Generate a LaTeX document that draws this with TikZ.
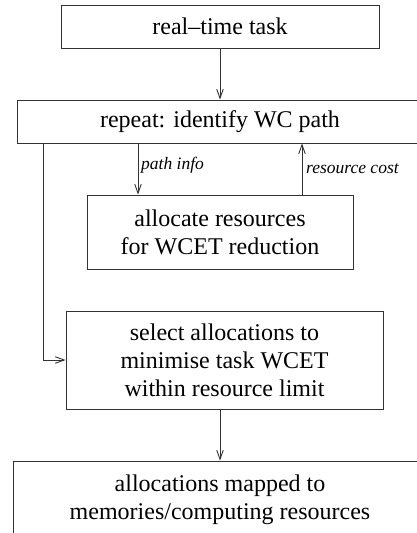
\documentclass[tikz,border=0pt]{standalone}
\usepackage{fontspec}
\newfontfamily\tnrfont[Ligatures=TeX]{Liberation Serif}
\usetikzlibrary{arrows.meta}
\begin{document}
\begin{tikzpicture}[x=1pt,y=-1pt,
  box/.style={draw=black!80,line width=0.9pt,rectangle,align=center,inner sep=0pt,
    font=\tnrfont\fontsize{24}{28}\selectfont},
  arr/.style={draw=black!80,line width=0.9pt,-{Straight Barb[length=9pt,width=6.5pt,line width=0.9pt]}},
  lbl/.style={font=\tnrfont\fontsize{17.5}{20}\selectfont\itshape,inner sep=0pt,anchor=west}]
\useasboundingbox (0,0) rectangle (416,533);
\node[box,minimum width=318pt,minimum height=43pt] (task) at (220,26.5) {real--time task};
\node[box,minimum width=406pt,minimum height=43pt] (repeat) at (220,121.5) {repeat: identify WC path};
\node[box,minimum width=266pt,minimum height=74pt] (alloc) at (220,232) {allocate resources\\for WCET reduction};
\node[box,minimum width=317pt,minimum height=98pt] (select) at (224.5,360) {select allocations to\\minimise task WCET\\within resource limit};
\node[box,minimum width=414pt,minimum height=78pt] (mapped) at (220,500) {allocations mapped to\\memories/computing resources};
\coordinate (pathx) at (138,0);
\coordinate (costx) at (302,0);
\coordinate (loopx) at (43,0);
\draw[arr] (task.south) -- (repeat.north);
\draw[arr] (repeat.south -| pathx) -- (alloc.north -| pathx);
\draw[arr] (alloc.north -| costx) -- (repeat.south -| costx);
\draw[arr] (repeat.south -| loopx) |- (select.west);
\draw[arr] (select.south -| mapped.north) -- (mapped.north);
\node[lbl] (pilbl) at (141,165) {path info};
\node[lbl] (rclbl) at (306,169) {resource cost};
\end{tikzpicture}
\end{document}
